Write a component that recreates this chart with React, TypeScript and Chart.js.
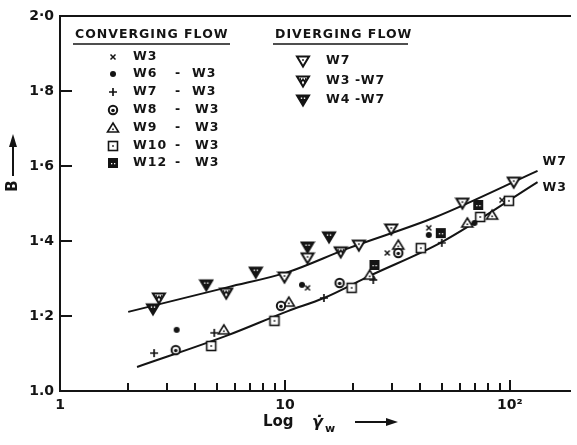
import React, { useEffect, useRef } from 'react';
import { Chart, registerables } from 'chart.js';

Chart.register(...registerables);

// ---------- axis ticks ----------
const xTickValues = [1, 10, 100];
const xTickLabels = ['1', '10', '10²'];
const xMinorTicks = [2, 3, 4, 5, 6, 7, 8, 9, 20, 30, 40, 50, 60, 70, 80, 90];
const yTickValues = [1.0, 1.2, 1.4, 1.6, 1.8, 2.0];
const yTickLabels = ['1.0', '1·2', '1·4', '1·6', '1·8', '2·0'];

// ---------- fitted curves ----------
const curveW7X = [2.01, 5.59, 10.3, 18.8, 46.8, 132.7];
const curveW7B = [1.211, 1.277, 1.317, 1.379, 1.464, 1.587];
const curveW3X = [2.2, 5.59, 10.3, 14.9, 23.8, 49.8, 132.7];
const curveW3B = [1.064, 1.149, 1.213, 1.248, 1.307, 1.397, 1.557];

// ---------- converging flow ----------
const w3X = [12.6, 28.5, 43.6, 92.2];
const w3B = [1.275, 1.368, 1.435, 1.509];
const w6X = [3.3, 11.9, 43.6, 69.6];
const w6B = [1.163, 1.283, 1.416, 1.448];
const w7X = [2.62, 4.85, 14.9, 24.7, 49.8];
const w7B = [1.101, 1.155, 1.248, 1.296, 1.395];
const w8X = [3.27, 9.6, 17.5, 31.9];
const w8B = [1.109, 1.227, 1.288, 1.368];
const w9X = [5.35, 10.4, 23.8, 31.9, 64.7, 83.4];
const w9B = [1.163, 1.237, 1.309, 1.389, 1.448, 1.469];
const w10X = [4.7, 8.98, 19.8, 40.2, 73.8, 99];
const w10B = [1.12, 1.187, 1.275, 1.381, 1.464, 1.507];
const w12X = [25, 49.3, 72.3];
const w12B = [1.336, 1.421, 1.496];

// ---------- diverging flow ----------
const dW7X = [9.95, 12.6, 21.3, 29.7, 61.5, 104];
const dW7B = [1.304, 1.355, 1.389, 1.432, 1.501, 1.557];
const dW3X = [2.75, 5.48, 17.7];
const dW3B = [1.248, 1.261, 1.371];
const dW4X = [2.59, 4.47, 7.42, 12.6, 15.7];
const dW4B = [1.219, 1.283, 1.317, 1.384, 1.411];

const convNames = ['W3', 'W6', 'W7', 'W8', 'W9', 'W10', 'W12'];
const convSuffix = ['', 'W3', 'W3', 'W3', 'W3', 'W3', 'W3'];
const divNames = ['W7', 'W3', 'W4'];
const divSuffix = ['', 'W7', 'W7'];

const INK = '#141414';
const FONT = '"DejaVu Sans", sans-serif';

function pts(xs: number[], ys: number[]) {
  return xs.map((x, i) => ({ x, y: ys[i] }));
}

function makeMarker(kind: string): HTMLCanvasElement {
  const s = 16;
  const c = document.createElement('canvas');
  c.width = s;
  c.height = s;
  const g = c.getContext('2d')!;
  const m = s / 2;
  g.strokeStyle = INK;
  g.fillStyle = INK;
  g.lineJoin = 'miter';
  const downTri = () => {
    g.beginPath();
    g.moveTo(m - 6, m - 4.5);
    g.lineTo(m + 6, m - 4.5);
    g.lineTo(m, m + 5.5);
    g.closePath();
  };
  switch (kind) {
    case 'x':
      g.lineWidth = 1.5;
      g.beginPath();
      g.moveTo(m - 2.5, m - 2.5); g.lineTo(m + 2.5, m + 2.5);
      g.moveTo(m + 2.5, m - 2.5); g.lineTo(m - 2.5, m + 2.5);
      g.stroke();
      break;
    case 'dot':
      g.beginPath(); g.arc(m, m, 3, 0, Math.PI * 2); g.fill();
      break;
    case 'plus':
      g.lineWidth = 1.7;
      g.beginPath();
      g.moveTo(m - 4, m); g.lineTo(m + 4, m);
      g.moveTo(m, m - 4); g.lineTo(m, m + 4);
      g.stroke();
      break;
    case 'circDot':
      g.fillStyle = '#fff';
      g.beginPath(); g.arc(m, m, 4.2, 0, Math.PI * 2); g.fill();
      g.lineWidth = 2;
      g.stroke();
      g.fillStyle = INK;
      g.beginPath(); g.arc(m, m + 0.5, 1.8, 0, Math.PI * 2); g.fill();
      break;
    case 'tri':
      g.fillStyle = '#fff';
      g.beginPath();
      g.moveTo(m, m - 5); g.lineTo(m + 5.5, m + 4); g.lineTo(m - 5.5, m + 4); g.closePath();
      g.fill();
      g.lineWidth = 1.6; g.stroke();
      g.fillStyle = INK;
      g.fillRect(m - 0.8, m + 0.5, 1.6, 1.6);
      break;
    case 'sqDot':
      g.fillStyle = '#fff';
      g.fillRect(m - 4.5, m - 4.5, 9, 9);
      g.lineWidth = 1.6;
      g.strokeRect(m - 4.5, m - 4.5, 9, 9);
      g.fillStyle = INK;
      g.fillRect(m - 0.8, m - 0.8, 1.6, 1.6);
      break;
    case 'sqFill':
      g.fillRect(m - 5, m - 5, 10, 10);
      g.fillStyle = '#fff';
      g.fillRect(m - 2, m, 1.3, 1.3);
      g.fillRect(m + 1, m, 1.3, 1.3);
      break;
    case 'dtri':
      g.fillStyle = '#fff'; downTri(); g.fill();
      g.lineWidth = 2; g.stroke();
      g.fillStyle = INK;
      g.fillRect(m - 0.8, m - 1.8, 1.6, 1.6);
      break;
    case 'dtriW':
      g.fillStyle = '#fff'; downTri(); g.fill();
      g.lineWidth = 2; g.stroke();
      g.lineWidth = 1.3;
      g.beginPath();
      g.moveTo(m - 3, m - 3); g.lineTo(m - 1.5, m + 1); g.lineTo(m, m - 2);
      g.lineTo(m + 1.5, m + 1); g.lineTo(m + 3, m - 3);
      g.stroke();
      break;
    case 'dtriF':
      downTri(); g.fill();
      g.lineWidth = 2; g.stroke();
      g.fillStyle = '#fff';
      g.fillRect(m - 2.2, m - 2.5, 1.4, 1.4);
      g.fillRect(m + 0.8, m - 2.5, 1.4, 1.4);
      break;
  }
  return c;
}

export default function App() {
  const ref = useRef<HTMLCanvasElement>(null);

  useEffect(() => {
    if (!ref.current) return;
    const mk = {
      x: makeMarker('x'),
      dot: makeMarker('dot'),
      plus: makeMarker('plus'),
      circDot: makeMarker('circDot'),
      tri: makeMarker('tri'),
      sqDot: makeMarker('sqDot'),
      sqFill: makeMarker('sqFill'),
      dtri: makeMarker('dtri'),
      dtriW: makeMarker('dtriW'),
      dtriF: makeMarker('dtriF'),
    };
    const convMarkers = [mk.x, mk.dot, mk.plus, mk.circDot, mk.tri, mk.sqDot, mk.sqFill];
    const divMarkers = [mk.dtri, mk.dtriW, mk.dtriF];

    const lineDs = (label: string, xs: number[], ys: number[]) => ({
      type: 'line' as const,
      label,
      data: pts(xs, ys),
      borderColor: INK,
      borderWidth: 2,
      pointRadius: 0,
      fill: false,
      cubicInterpolationMode: 'monotone' as const,
      order: 10,
    });
    const markDs = (label: string, xs: number[], ys: number[], img: HTMLCanvasElement) => ({
      type: 'scatter' as const,
      label,
      data: pts(xs, ys),
      pointStyle: img,
      pointRadius: 6,
      order: 0,
    });

    const overlay = {
      id: 'overlay',
      afterDraw(chart: any) {
        const ctx: CanvasRenderingContext2D = chart.ctx;
        const ca = chart.chartArea;
        const xs = chart.scales.x;
        const ys = chart.scales.y;
        ctx.save();
        ctx.setLineDash([]);
        ctx.globalAlpha = 1;
        ctx.globalCompositeOperation = 'source-over';
        ctx.strokeStyle = INK;
        ctx.fillStyle = INK;
        const seg = (x1: number, y1: number, x2: number, y2: number, w: number) => {
          ctx.lineWidth = w;
          ctx.beginPath();
          ctx.moveTo(x1, y1);
          ctx.lineTo(x2, y2);
          ctx.stroke();
        };

        // inward ticks, drawn as filled bars
        const left = Math.round(ca.left);
        const bottom = Math.round(ca.bottom);
        for (let i = 1; i < yTickValues.length - 1; i++) {
          const py = Math.round(ys.getPixelForValue(yTickValues[i]));
          ctx.fillRect(left, py - 1, 12, 2);
        }
        for (let i = 0; i < xMinorTicks.length; i++) {
          const px = Math.round(xs.getPixelForValue(xMinorTicks[i]));
          ctx.fillRect(px - 1, bottom - 8, 2, 8);
        }
        for (let i = 1; i < xTickValues.length; i++) {
          const px = Math.round(xs.getPixelForValue(xTickValues[i]));
          ctx.fillRect(px - 1, bottom - 11, 2, 11);
        }

        // top border
        ctx.fillRect(left - 1, Math.round(ca.top) - 1, Math.round(ca.right) - left + 2, 2);

        // legend
        ctx.textBaseline = 'middle';
        ctx.textAlign = 'left';
        ctx.font = `bold 12.5px ${FONT}`;
        (ctx as any).letterSpacing = '1px';
        ctx.fillText('CONVERGING FLOW', 75, 35);
        ctx.fillText('DIVERGING FLOW', 275, 35);
        seg(73, 44, 230, 44, 1.5);
        seg(273, 44, 408, 44, 1.5);
        const convRows = [57, 74, 92, 110, 128, 146, 163];
        convNames.forEach((n, i) => {
          const yy = convRows[i];
          const img = convMarkers[i];
          ctx.drawImage(img, 113 - img.width / 2, yy - img.height / 2);
          ctx.fillText(n, 133, yy);
          if (convSuffix[i]) {
            ctx.fillText('-', 175, yy);
            ctx.fillText(convSuffix[i], i < 3 ? 192 : 195, yy);
          }
        });
        const divRows = [61, 81, 100];
        divNames.forEach((n, i) => {
          const yy = divRows[i];
          const img = divMarkers[i];
          ctx.drawImage(img, 303 - img.width / 2, yy - img.height / 2);
          ctx.fillText(n, 326, yy);
          if (divSuffix[i]) {
            ctx.fillText('-' + divSuffix[i], 355, yy);
          }
        });

        // curve labels
        const e7x = xs.getPixelForValue(curveW7X[curveW7X.length - 1]);
        const e7y = ys.getPixelForValue(curveW7B[curveW7B.length - 1]);
        const e3x = xs.getPixelForValue(curveW3X[curveW3X.length - 1]);
        const e3y = ys.getPixelForValue(curveW3B[curveW3B.length - 1]);
        ctx.fillText('W7', e7x + 5, e7y - 9);
        ctx.fillText('W3', e3x + 5, e3y + 6);
        (ctx as any).letterSpacing = '0px';

        // x axis title
        ctx.font = `bold 15px ${FONT}`;
        ctx.fillText('Log', 263, 422);
        ctx.font = `italic bold 16px ${FONT}`;
        ctx.fillText('γ̇', 312, 423);
        ctx.font = `bold 11px ${FONT}`;
        ctx.fillText('w', 325, 429);
        seg(355, 422, 388, 422, 2);
        ctx.beginPath();
        ctx.moveTo(398, 422);
        ctx.lineTo(386, 418);
        ctx.lineTo(386, 426);
        ctx.closePath();
        ctx.fill();

        // y axis title
        ctx.save();
        ctx.translate(13, 186);
        ctx.rotate(-Math.PI / 2);
        ctx.font = `bold 15px ${FONT}`;
        ctx.textAlign = 'center';
        ctx.fillText('B', 0, 0);
        ctx.restore();
        seg(13, 176, 13, 146, 2);
        ctx.beginPath();
        ctx.moveTo(13, 134);
        ctx.lineTo(9, 147);
        ctx.lineTo(17, 147);
        ctx.closePath();
        ctx.fill();
        ctx.restore();
      },
    };

    const chart = new Chart(ref.current, {
      type: 'scatter',
      data: {
        datasets: [
          lineDs('W7 curve', curveW7X, curveW7B),
          lineDs('W3 curve', curveW3X, curveW3B),
          markDs('W3', w3X, w3B, mk.x),
          markDs('W6 - W3', w6X, w6B, mk.dot),
          markDs('W7 - W3', w7X, w7B, mk.plus),
          markDs('W8 - W3', w8X, w8B, mk.circDot),
          markDs('W9 - W3', w9X, w9B, mk.tri),
          markDs('W10 - W3', w10X, w10B, mk.sqDot),
          markDs('W12 - W3', w12X, w12B, mk.sqFill),
          markDs('W7 (div)', dW7X, dW7B, mk.dtri),
          markDs('W3 - W7', dW3X, dW3B, mk.dtriW),
          markDs('W4 - W7', dW4X, dW4B, mk.dtriF),
        ] as any,
      },
      options: {
        animation: false,
        responsive: false,
        devicePixelRatio: 1,
        layout: { padding: { top: 16, right: 1, left: 0, bottom: 0 } },
        plugins: { legend: { display: false }, tooltip: { enabled: false } },
        scales: {
          x: {
            type: 'logarithmic',
            min: 1,
            max: 185,
            grid: { display: false, drawTicks: false },
            border: { display: true, color: INK, width: 2 },
            afterBuildTicks: (s: any) => {
              s.ticks = xTickValues.map((v) => ({ value: v }));
            },
            afterFit: (s: any) => {
              s.height = 54;
              s.paddingLeft = 0;
              s.paddingRight = 0;
            },
            ticks: {
              autoSkip: false,
              maxRotation: 0,
              padding: 6,
              color: INK,
              font: { family: FONT, size: 14, weight: 'bold' },
              callback: (v: any) => {
                const i = xTickValues.indexOf(Number(v));
                return i >= 0 ? xTickLabels[i] : '';
              },
            },
          },
          y: {
            type: 'linear',
            min: 1,
            max: 2,
            grid: { display: false, drawTicks: false },
            border: { display: true, color: INK, width: 2 },
            afterBuildTicks: (s: any) => {
              s.ticks = yTickValues.map((v) => ({ value: v }));
            },
            afterFit: (s: any) => {
              s.width = 60;
              s.paddingTop = 0;
              s.paddingBottom = 0;
            },
            ticks: {
              padding: 6,
              color: INK,
              font: { family: FONT, size: 14, weight: 'bold' },
              callback: (v: any) => {
                const i = yTickValues.findIndex((t) => Math.abs(t - Number(v)) < 1e-6);
                return i >= 0 ? yTickLabels[i] : '';
              },
            },
          },
        },
      },
      plugins: [overlay],
    });
    return () => chart.destroy();
  }, []);

  return (
    <div style={{ position: 'fixed', left: 0, top: 0, width: 577, height: 445, background: '#fff' }}>
      <canvas ref={ref} width={577} height={445} style={{ width: 577, height: 445 }} />
    </div>
  );
}
